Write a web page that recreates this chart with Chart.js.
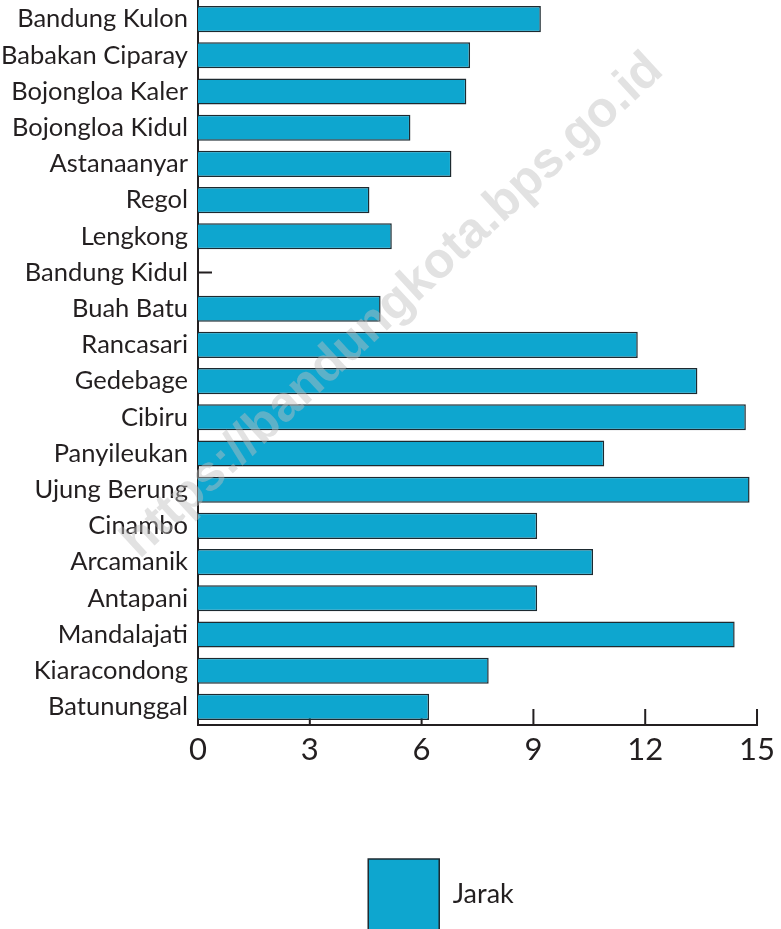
<!DOCTYPE html>
<html>
<head>
<meta charset="utf-8">
<script src="https://cdn.jsdelivr.net/npm/chart.js@4.4.1/dist/chart.umd.min.js"></script>
<style>
    html, body { margin: 0; padding: 0; background: #ffffff; }
    #jarakChart { display: block; }
</style>
</head>
<body>
<canvas id="jarakChart" width="781" height="929"></canvas>
<script>
// data
const kecamatan = [
    'Bandung Kulon', 'Babakan Ciparay', 'Bojongloa Kaler', 'Bojongloa Kidul', 'Astanaanyar',
    'Regol', 'Lengkong', 'Bandung Kidul', 'Buah Batu', 'Rancasari',
    'Gedebage', 'Cibiru', 'Panyileukan', 'Ujung Berung', 'Cinambo',
    'Arcamanik', 'Antapani', 'Mandalajati', 'Kiaracondong', 'Batununggal'
];
const jarak = [
    9.2, 7.3, 7.2, 5.7, 6.8,
    4.6, 5.2, 0, 4.9, 11.8,
    13.4, 14.7, 10.9, 14.8, 9.1,
    10.6, 9.1, 14.4, 7.8, 6.2
];
const xTicks = [0, 3, 6, 9, 12, 15];
const seriesLabel = 'Jarak';
const watermarkText = 'https://bandungkota.bps.go.id';

const INK = '#231f20';
const BAR = '#0ea6cf';
const PAD_RIGHT = 19;
const AXIS_X = 198;
const LEGEND_LEFT = 120;

// short tick marks drawn inside the plot, under the bars
const innerTicks = {
    id: 'innerTicks',
    beforeDatasetsDraw(chart) {
        const { ctx, chartArea, scales: { x, y } } = chart;
        ctx.save();
        ctx.strokeStyle = INK;
        ctx.lineWidth = 2;
        ctx.beginPath();
        y.ticks.forEach((t, i) => {
            const py = y.getPixelForTick(i);
            ctx.moveTo(chartArea.left, py);
            ctx.lineTo(chartArea.left + 14, py);
        });
        x.ticks.forEach((t, i) => {
            const px = x.getPixelForTick(i);
            ctx.moveTo(px, chartArea.bottom);
            ctx.lineTo(px, chartArea.bottom - 16);
        });
        ctx.stroke();
        ctx.restore();
    }
};

// legend sits right of centre in the original
const legendShift = {
    id: 'legendShift',
    afterLayout(chart) {
        if (chart.legend) chart.legend.left = LEGEND_LEFT;
    }
};

const watermark = {
    id: 'watermark',
    afterDraw(chart) {
        const ctx = chart.ctx;
        ctx.save();
        ctx.translate(393, 306);
        ctx.rotate(-42.8 * Math.PI / 180);
        ctx.font = 'bold 50px "Liberation Sans", Arial, sans-serif';
        ctx.fillStyle = 'rgba(190, 190, 190, 0.45)';
        ctx.textAlign = 'center';
        ctx.textBaseline = 'middle';
        ctx.fillText(watermarkText, 0, 0);
        ctx.restore();
    }
};

const ctx = document.getElementById('jarakChart').getContext('2d');

new Chart(ctx, {
    type: 'bar',
    data: {
        labels: kecamatan,
        datasets: [{
            label: seriesLabel,
            data: jarak,
            backgroundColor: BAR,
            borderColor: '#1d2a30',
            borderWidth: 1.5,
            borderSkipped: 'start',
            barPercentage: 0.72,
            categoryPercentage: 1
        }]
    },
    options: {
        indexAxis: 'y',
        responsive: false,
        animation: false,
        devicePixelRatio: 1,
        layout: {
            padding: { left: 0, right: PAD_RIGHT, top: 1, bottom: -11 }
        },
        plugins: {
            legend: {
                position: 'bottom',
                labels: {
                    boxWidth: 71,
                    boxHeight: 71,
                    padding: 10,
                    color: INK,
                    font: { family: 'Lato', size: 27 }
                }
            },
            tooltip: { enabled: false }
        },
        scales: {
            x: {
                min: 0,
                max: 15,
                afterBuildTicks: (scale) => {
                    scale.ticks = xTicks.map(v => ({ value: v }));
                },
                afterFit: (scale) => {
                    scale.height = 124;
                },
                grid: { display: false, drawTicks: false },
                border: { display: true, color: INK, width: 2 },
                ticks: {
                    color: INK,
                    padding: 6,
                    font: { family: 'Lato', size: 31 }
                }
            },
            y: {
                afterFit: (scale) => {
                    scale.width = AXIS_X;
                    scale.paddingTop = 0;
                    scale.paddingBottom = 0;
                },
                grid: { display: false, drawTicks: false },
                border: { display: true, color: INK, width: 2 },
                ticks: {
                    color: INK,
                    padding: 10,
                    autoSkip: false,
                    font: { family: 'Lato', size: 25.5 }
                }
            }
        }
    },
    plugins: [innerTicks, legendShift, watermark]
});
</script>
</body>
</html>
